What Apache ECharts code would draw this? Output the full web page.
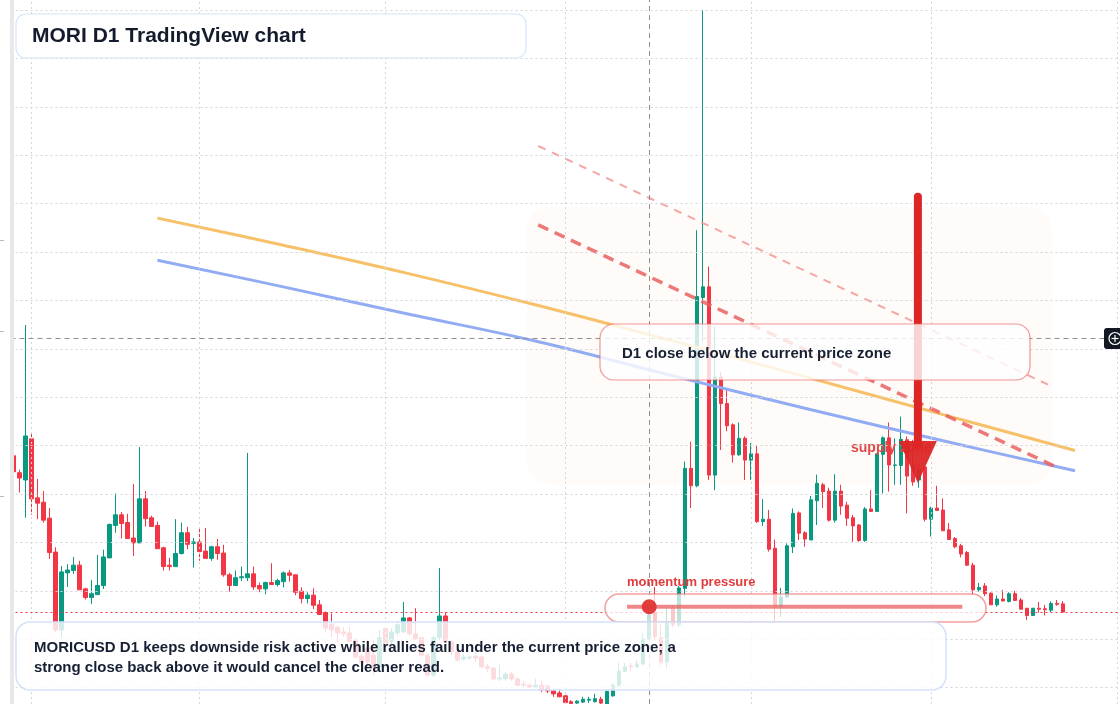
<!DOCTYPE html>
<html>
<head>
<meta charset="utf-8">
<script src="https://cdn.jsdelivr.net/npm/echarts@6/dist/echarts.min.js"></script>
<style>
html,body{margin:0;padding:0;background:#ffffff;}
#chart{width:1120px;height:704px;}
</style>
</head>
<body>
<div id="chart"></div>
<script>
// ---------- data ----------
const startDate = [2025, 0, 29];      // first daily candle
const futureSlots = 9;                 // empty days to the right of the last candle

const opens = [
67.9,64.4,62.9,71.4,59.2,58.3,55.0,48.0,31.9,43.7,44.2,45.3,40.4,38.6,39.2,41.1,46.8,53.5,55.7,54.1,
50.9,49.9,59.0,55.1,53.5,48.9,45.3,45.0,47.7,52.0,49.8,50.1,48.2,46.7,49.1,47.8,43.3,41.1,42.7,42.7,
43.5,41.1,40.4,41.7,41.3,41.9,43.7,43.3,39.9,38.4,39.1,37.1,35.5,33.1,32.5,31.5,31.3,29.8,26.5,28.2,
26.7,24.3,32.3,29.6,31.3,31.5,34.4,31.1,30.3,26.7,22.6,30.3,34.8,29.4,27.4,25.9,26.1,26.5,26.3,24.3,
24.0,21.8,21.8,22.8,21.8,20.7,20.5,20.1,20.5,20.3,19.4,18.9,18.3,17.1,16.8,17.0,17.4,17.1,17.6,16.6,
18.3,20.5,23.3,24.5,24.3,24.9,30.0,35.4,30.3,25.3,36.5,33.0,40.5,65.3,61.7,100.6,102.8,63.9,84.2,78.7,
74.3,68.1,71.5,67.0,68.3,54.3,54.8,48.8,36.7,38.7,49.1,56.1,52.0,50.5,58.6,61.9,60.6,54.6,60.6,57.7,
55.1,53.6,50.4,56.9,56.4,68.2,71.6,65.9,65.9,71.2,65.8,62.9,65.6,54.8,57.1,56.7,52.6,50.8,49.3,47.9,
45.3,40.2,41.0,39.5,37.1,38.3,37.8,39.4,38.1,36.4,34.9,36.4,36.3,36.0,37.4,37.3
];
const closes = [
64.6,63.3,72.0,59.0,58.1,54.6,47.9,31.9,43.9,44.3,45.3,40.2,38.6,39.4,41.1,47.0,53.7,55.7,53.9,50.8,
49.9,59.0,54.9,53.3,48.7,45.0,45.0,47.7,52.0,49.6,50.1,48.1,46.7,49.1,47.7,43.3,41.1,42.7,42.9,43.5,
40.8,40.4,41.7,41.3,42.1,43.7,43.2,39.7,38.4,39.1,37.0,35.1,32.3,31.9,31.3,31.1,29.6,26.3,25.1,25.3,
24.1,30.3,28.8,31.5,33.0,34.4,31.1,30.0,26.7,22.6,30.3,34.8,29.6,27.4,25.7,26.3,26.3,26.1,24.3,24.0,
21.8,22.0,22.8,21.8,20.5,20.5,20.1,20.5,19.5,19.3,18.7,18.1,16.9,16.7,17.2,17.6,17.6,17.7,16.8,19.2,
20.5,23.4,24.3,24.3,24.9,30.0,35.0,30.5,25.3,33.6,33.0,40.6,65.3,61.7,100.8,102.8,63.9,84.2,78.7,74.1,
68.1,71.5,67.0,68.3,54.3,54.8,48.6,36.7,38.7,49.3,56.0,51.9,50.7,58.8,62.2,60.5,54.6,60.6,57.5,55.0,
53.4,50.4,56.9,56.4,68.3,71.6,66.0,66.0,71.3,63.7,62.5,65.0,54.8,57.1,56.6,52.4,50.6,49.1,47.6,45.3,
40.2,40.7,39.4,37.1,38.3,37.9,39.4,38.0,36.2,34.9,36.4,36.2,36.1,37.4,37.2,35.6
];
const lows = [
64.3,60.3,55.1,55.7,54.8,54.1,46.6,31.5,30.3,40.8,43.5,40.2,38.2,37.3,39.2,40.4,46.8,52.0,50.8,50.8,
47.2,49.9,53.3,53.3,48.7,44.2,44.2,45.0,47.5,48.6,44.8,46.2,46.7,46.2,46.4,42.9,39.8,41.1,42.0,42.0,
40.2,39.7,39.3,41.3,40.9,40.7,41.9,39.1,37.4,37.4,36.2,35.1,31.5,30.5,29.2,30.5,29.4,26.1,24.5,24.0,
22.6,23.6,28.2,28.8,30.7,31.3,30.7,29.8,26.3,22.2,22.2,29.8,29.2,26.7,25.3,25.5,25.7,25.3,24.0,23.2,
21.6,21.4,21.4,21.4,20.3,20.1,19.9,19.9,19.1,18.9,18.1,18.0,16.8,16.2,16.6,16.8,16.8,16.9,16.6,16.4,
18.1,20.1,23.2,23.4,24.1,24.7,29.8,29.8,24.7,24.1,32.5,32.5,38.8,57.1,61.4,91.5,62.9,60.8,69.1,73.0,
66.5,67.9,62.9,62.9,54.0,53.4,48.1,33.6,34.6,38.5,47.8,50.5,49.1,50.5,53.6,57.1,54.3,54.1,55.7,53.4,
50.1,50.1,50.1,56.4,56.4,60.1,60.5,61.9,61.9,56.0,61.7,61.3,54.3,51.2,56.6,52.4,50.5,48.8,46.9,45.2,
39.2,39.8,38.9,37.1,36.7,37.8,37.6,38.0,36.2,34.0,34.9,35.5,34.9,35.6,36.9,35.5
];
const highs = [
68.1,65.0,94.9,72.8,63.1,60.6,57.1,49.0,45.1,45.5,47.0,46.2,40.6,42.2,47.4,48.5,53.9,60.1,56.3,55.9,
62.1,69.7,60.6,55.5,54.3,49.1,46.8,54.8,54.1,53.2,50.9,53.0,53.0,49.3,50.7,49.5,43.7,44.2,45.0,68.5,
45.0,41.7,41.9,45.7,42.5,44.0,44.3,43.3,40.7,39.7,40.5,38.1,35.7,35.3,32.7,32.5,32.5,30.3,26.9,29.8,
29.8,31.9,32.5,32.3,33.6,37.7,34.6,36.4,30.5,27.2,30.7,44.7,35.5,29.8,27.8,26.9,26.7,27.4,26.7,24.9,
24.3,24.7,23.2,23.2,22.2,21.4,20.9,21.8,21.4,20.7,19.7,19.7,18.5,17.4,17.4,18.1,18.1,18.7,18.1,19.5,
20.9,25.1,25.1,25.1,25.7,31.3,36.0,40.8,33.0,36.4,36.9,41.0,66.7,70.8,114.5,160.0,107.0,94.6,85.2,81.6,
74.6,74.8,71.9,70.5,70.1,58.9,56.7,50.6,40.6,49.8,57.0,56.4,52.3,59.6,64.0,62.3,61.3,64.1,61.9,58.4,
55.7,53.8,57.3,60.8,68.4,71.9,74.8,71.5,76.0,71.9,71.2,66.0,65.6,57.4,61.7,59.1,54.0,51.1,49.7,48.2,
45.8,41.6,41.6,39.7,39.0,40.2,39.7,40.0,38.5,36.4,36.4,37.7,37.1,37.8,38.1,37.9
];

// horizontal price grid levels
const gridLevels = [20,30,40,50,60,70,80,90,100,110,120,130,140,150,160];
// crosshair (category index, price)
const crosshairIndex = [106];
const crosshairPrice = [92.2];

// overlay trend curves (x in candle index units)
const trendX      = [24, 45, 65, 87, 110, 133, 155, 177];
const orangeTrend = [117.0, 111.4, 105.8, 99.1, 91.6, 83.9, 76.4, 69.0];
const blueTrend   = [108.3, 102.8, 97.4, 91.6, 84.4, 77.4, 71.0, 64.8];
// dashed resistance lines
const resistX      = [87.5, 173.5];
const resistLine   = [115.6, 65.8];
const outerResX    = [87.5, 173.2];
const outerResLine = [131.9, 82.2];
// sell arrow
const arrowX     = [150.8];
const arrowShaft = [121.4, 70.0];
const arrowHead  = [66.6];
// momentum pressure bar
const momentumX     = [102.3, 158.2];
const momentumLevel = [36.7];
const momentumDotX  = [106];

// ---------- build ----------
const categories = [];
const t0 = Date.UTC(startDate[0], startDate[1], startDate[2]);
for (let i = 0; i < opens.length + futureSlots; i++) {
  categories.push(new Date(t0 + i * 86400000).toISOString().slice(0, 10));
}
const monthStarts = categories.filter(d => d.endsWith('-01'));
const candles = opens.map((o, i) => [o, closes[i], lows[i], highs[i]]);
const lastClose = closes[closes.length - 1];

const UP = '#089981', DOWN = '#f23645';
const FONT = '"Liberation Sans", Arial, sans-serif';

const chart = echarts.init(document.getElementById('chart'), null, {renderer: 'canvas'});

const option = {
  animation: false,
  backgroundColor: '#ffffff',
  grid: {left: 10.5, width: 1110, top: 0, bottom: 0},
  xAxis: [
    {type: 'category', data: categories, boundaryGap: true, show: false},
    {type: 'value', min: -0.5, max: categories.length - 0.5, show: false}
  ],
  yAxis: [{type: 'value', min: 16.61, max: 162.07, show: false}],
  series: [
    { // grid lines
      type: 'line', data: [], xAxisIndex: 0, yAxisIndex: 0, z: 1, silent: true,
      markLine: {
        silent: true, symbol: 'none', label: {show: false}, animation: false,
        lineStyle: {color: '#d2d5da', width: 1, type: [2, 3]},
        data: gridLevels.map(v => ({yAxis: v})).concat(monthStarts.map(d => ({xAxis: d})))
      }
    },
    { // crosshair
      type: 'line', data: [], xAxisIndex: 0, yAxisIndex: 0, z: 1, silent: true,
      markLine: {
        silent: true, symbol: 'none', label: {show: false}, animation: false,
        lineStyle: {color: '#8f8f8f', width: 1, type: [5, 4]},
        data: [{xAxis: categories[crosshairIndex[0]]}, {yAxis: crosshairPrice[0]}]
      }
    },
    {
      type: 'candlestick', name: 'MORICUSD', data: candles, xAxisIndex: 0, yAxisIndex: 0,
      barWidth: 4, z: 2,
      itemStyle: {color: UP, color0: DOWN, borderColor: UP, borderColor0: DOWN, borderWidth: 1},
      markLine: {
        silent: true, symbol: 'none', label: {show: false}, animation: false,
        lineStyle: {color: DOWN, width: 1.2, type: [2, 3]},
        data: [{yAxis: lastClose}]
      }
    },
    {
      type: 'line', xAxisIndex: 1, yAxisIndex: 0, z: 3, silent: true, smooth: 0.4, showSymbol: false, symbol: 'none',
      data: trendX.map((x, i) => [x, orangeTrend[i]]),
      lineStyle: {color: '#f6c169', width: 3}
    },
    {
      type: 'line', xAxisIndex: 1, yAxisIndex: 0, z: 3, silent: true, smooth: 0.4, showSymbol: false, symbol: 'none',
      data: trendX.map((x, i) => [x, blueTrend[i]]),
      lineStyle: {color: '#92acf4', width: 3}
    },
    {
      type: 'line', xAxisIndex: 1, yAxisIndex: 0, z: 3, silent: true, showSymbol: false, symbol: 'none',
      data: resistX.map((x, i) => [x, resistLine[i]]),
      lineStyle: {color: 'rgba(233,96,96,0.85)', width: 3.5, type: [11, 7]}
    },
    {
      type: 'line', xAxisIndex: 1, yAxisIndex: 0, z: 3, silent: true, showSymbol: false, symbol: 'none',
      data: outerResX.map((x, i) => [x, outerResLine[i]]),
      lineStyle: {color: 'rgba(242,150,150,0.85)', width: 2, type: [8, 7]}
    },
    { // arrow shaft
      type: 'line', xAxisIndex: 1, yAxisIndex: 0, z: 6, silent: true, showSymbol: false, symbol: 'none',
      data: arrowShaft.map(v => [arrowX[0], v]),
      lineStyle: {color: '#dc2626', width: 8, cap: 'round'}
    },
    { // arrow head
      type: 'scatter', xAxisIndex: 1, yAxisIndex: 0, z: 6, silent: true,
      data: [[arrowX[0], arrowHead[0]]],
      symbol: 'path://M0,0 L38,0 L19,42 Z', symbolSize: [38, 42], symbolKeepAspect: false,
      itemStyle: {color: '#dc2626', opacity: 0.95}
    },
    { // momentum bar
      type: 'line', xAxisIndex: 1, yAxisIndex: 0, z: 12, silent: true, showSymbol: false, symbol: 'none',
      data: momentumX.map(x => [x, momentumLevel[0]]),
      lineStyle: {color: 'rgba(232,96,96,0.75)', width: 4}
    },
    {
      type: 'scatter', xAxisIndex: 1, yAxisIndex: 0, z: 13, silent: true,
      data: [[momentumDotX[0], momentumLevel[0]]],
      symbol: 'circle', symbolSize: 15,
      itemStyle: {color: '#e03434', opacity: 0.95}
    }
  ],
  graphic: {elements: [
    {type: 'rect', z: 0, silent: true, shape: {x: 527, y: 207, width: 525, height: 277, r: 22},
     style: {fill: 'rgba(245,215,190,0.10)'}},
    {type: 'text', z: 5, silent: true,
     style: {text: 'supply zone', x: 851, y: 448, fill: '#e24848', font: 'bold 14px ' + FONT, textVerticalAlign: 'middle'}},
    {type: 'rect', z: 10, silent: true, shape: {x: 600, y: 324, width: 430, height: 56, r: 14},
     style: {fill: 'rgba(255,255,255,0.8)', stroke: 'rgba(232,96,96,0.65)', lineWidth: 1.2}},
    {type: 'text', z: 11, silent: true,
     style: {text: 'D1 close below the current price zone', x: 622, y: 354, fill: '#172033', font: 'bold 15px ' + FONT, textVerticalAlign: 'middle'}},
    {type: 'rect', z: 10, silent: true, shape: {x: 605, y: 594, width: 381, height: 28, r: 14},
     style: {fill: 'rgba(255,255,255,0.72)', stroke: 'rgba(236,110,110,0.65)', lineWidth: 1.5}},
    {type: 'text', z: 11, silent: true,
     style: {text: 'momentum pressure', x: 627, y: 582, fill: '#e23b3b', font: 'bold 13px ' + FONT, textVerticalAlign: 'middle'}},
    {type: 'rect', z: 10, silent: true, shape: {x: 16, y: 622, width: 930, height: 68, r: 14},
     style: {fill: 'rgba(255,255,255,0.82)', stroke: '#d3e2fa', lineWidth: 1.5}},
    {type: 'text', z: 11, silent: true,
     style: {text: 'MORICUSD D1 keeps downside risk active while rallies fail under the current price zone; a',
             x: 34, y: 648, fill: '#172033', font: 'bold 15px ' + FONT, textVerticalAlign: 'middle'}},
    {type: 'text', z: 11, silent: true,
     style: {text: 'strong close back above it would cancel the cleaner read.',
             x: 34, y: 668, fill: '#172033', font: 'bold 15px ' + FONT, textVerticalAlign: 'middle'}},
    {type: 'rect', z: 10, silent: true, shape: {x: 16, y: 14, width: 510, height: 44, r: 10},
     style: {fill: 'rgba(255,255,255,0.93)', stroke: '#d6e4f9', lineWidth: 1.2}},
    {type: 'text', z: 11, silent: true,
     style: {text: 'MORI D1 TradingView chart', x: 32, y: 36, fill: '#131b2c', font: 'bold 21px ' + FONT, textVerticalAlign: 'middle'}},
    // left price-scale strip
    {type: 'rect', z: 20, silent: true, shape: {x: 10, y: 0, width: 4, height: 704}, style: {fill: '#e8e8e8'}},
    {type: 'line', z: 20, silent: true, shape: {x1: 0, y1: 240.5, x2: 4, y2: 240.5}, style: {stroke: '#b9b9b9', lineWidth: 1}},
    {type: 'line', z: 20, silent: true, shape: {x1: 0, y1: 331.5, x2: 4, y2: 331.5}, style: {stroke: '#b9b9b9', lineWidth: 1}},
    {type: 'line', z: 20, silent: true, shape: {x1: 0, y1: 496.5, x2: 4, y2: 496.5}, style: {stroke: '#b9b9b9', lineWidth: 1}},
    // crosshair add button on the right edge
    {type: 'rect', z: 20, silent: true, shape: {x: 1104, y: 328, width: 22, height: 21, r: 3}, style: {fill: '#131722'}},
    {type: 'circle', z: 21, silent: true, shape: {cx: 1115, cy: 338.5, r: 6}, style: {fill: 'none', stroke: '#ffffff', lineWidth: 1.2}},
    {type: 'line', z: 21, silent: true, shape: {x1: 1111.5, y1: 338.5, x2: 1118.5, y2: 338.5}, style: {stroke: '#ffffff', lineWidth: 1.2}},
    {type: 'line', z: 21, silent: true, shape: {x1: 1115, y1: 335, x2: 1115, y2: 342}, style: {stroke: '#ffffff', lineWidth: 1.2}}
  ]}
};
chart.setOption(option);
</script>
</body>
</html>
